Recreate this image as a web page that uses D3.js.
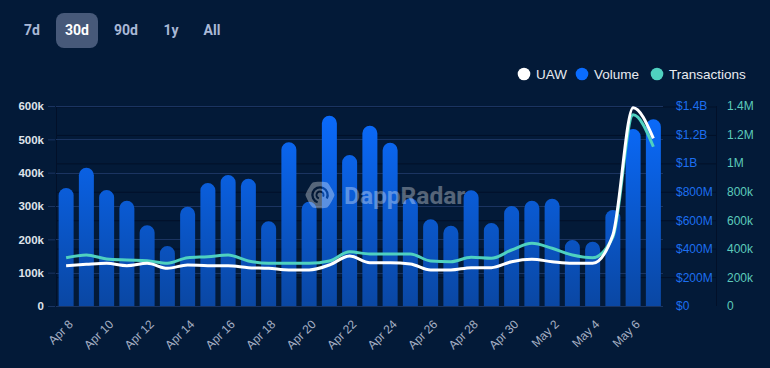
<!DOCTYPE html>
<html><head><meta charset="utf-8">
<script src="https://cdn.jsdelivr.net/npm/d3@7"></script>
<style>
html,body{margin:0;padding:0;background:#031a38;}
svg{display:block;}
</style></head><body>
<svg id="chart" width="770" height="368"></svg>
<script>
// ---------- DATA ----------
const days = ["Apr 8","Apr 9","Apr 10","Apr 11","Apr 12","Apr 13","Apr 14","Apr 15","Apr 16","Apr 17",
  "Apr 18","Apr 19","Apr 20","Apr 21","Apr 22","Apr 23","Apr 24","Apr 25","Apr 26","Apr 27",
  "Apr 28","Apr 29","Apr 30","May 1","May 2","May 3","May 4","May 5","May 6","May 7"];
// Volume in USD millions
const volume = [826,968,812,737,565,420,695,861,917,891,593,1146,730,1332,1057,1262,1143,754,607,562,810,581,700,737,751,462,450,672,1239,1307];
// Unique active wallets, thousands
const uaw = [121,125,128,121,128,113,123,121,121,115,113,108,108,123,150,130,130,126,108,108,115,115,133,140,133,128,128,213,595,503];
// Transactions, thousands
const transactions = [338,357,329,322,317,299,338,345,357,315,299,299,299,315,380,364,364,364,315,310,341,334,392,439,404,357,338,483,1338,1115];
const uawTicks = [0,100,200,300,400,500,600];
const volumeTicks = [0,200,400,600,800,1000,1200,1400];
const txTicks = [0,200,400,600,800,1000,1200,1400];
const xLabelDays = days.filter((d,i)=> i % 2 === 0);
const ranges = ["7d","30d","90d","1y","All"];
const selectedRange = "30d";
const legendItems = ["UAW","Volume","Transactions"];

// ---------- STYLE ----------
const C = {
  bg:"#031a38", grid:"#1b3461", darkGrid:"#021029",
  uaw:"#ffffff", vol:"#0a6cff", volAxis:"#1d6ff0", tx:"#4fd1c0", txAxis:"#5ccabb",
  leftText:"#dfe3ea", xText:"#a6b0c4", btnText:"#a9b8d6", btnBg:"#475979"
};
const FONT = "'Liberation Sans', Arial, sans-serif";

const svg = d3.select("#chart");
svg.append("rect").attr("width",770).attr("height",368).attr("fill",C.bg);

const plot = {left:56, right:663.5, top:106, bottom:306};

const x = d3.scaleBand().domain(days).range([plot.left, plot.right]).paddingInner(0.26).paddingOuter(0.13);
const cx = d => x(d) + x.bandwidth()/2;
const yU = d3.scaleLinear().domain([0,600]).range([plot.bottom, plot.top]);
const yV = d3.scaleLinear().domain([0,1400]).range([plot.bottom, plot.top]);
const yT = d3.scaleLinear().domain([0,1400]).range([plot.bottom, plot.top]);

// gradient
const defs = svg.append("defs");
const grad = defs.append("linearGradient").attr("id","barGrad").attr("gradientUnits","userSpaceOnUse")
  .attr("x1",0).attr("x2",0).attr("y1",plot.top).attr("y2",plot.bottom);
grad.append("stop").attr("offset","0%").attr("stop-color","#0a6cff");
grad.append("stop").attr("offset","100%").attr("stop-color","#0a47a3");

// hidden secondary grid (faint dark lines)
const yHidden = d3.scaleLinear().domain([0,7]).range([plot.bottom, plot.top+1]);
svg.append("g").selectAll("line").data(d3.range(1,8)).join("line")
  .attr("x1",plot.left).attr("x2",716).attr("y1",d=>yHidden(d)).attr("y2",d=>yHidden(d))
  .attr("stroke",C.darkGrid).attr("stroke-width",1);
svg.append("line").attr("x1",plot.left+0.5).attr("x2",plot.left+0.5).attr("y1",plot.top).attr("y2",plot.bottom).attr("stroke",C.darkGrid);
svg.append("line").attr("x1",716.5).attr("x2",716.5).attr("y1",plot.top).attr("y2",plot.bottom).attr("stroke",C.darkGrid);

// gridlines
svg.append("g").selectAll("line").data(uawTicks).join("line")
  .attr("x1",plot.left).attr("x2",663).attr("y1",d=>Math.round(yU(d))+0.5).attr("y2",d=>Math.round(yU(d))+0.5)
  .attr("stroke",C.grid).attr("stroke-width",1);

// left axis
const gL = svg.append("g").attr("transform",`translate(${plot.left-1},0)`)
  .call(d3.axisLeft(yU).tickValues(uawTicks).tickFormat(d=> d===0?"0":d+"k").tickSize(7).tickPadding(4));
gL.select(".domain").remove();
gL.selectAll(".tick line").attr("stroke",C.grid);
gL.selectAll("text").attr("fill",C.leftText).attr("font-family",FONT).attr("font-size",11.5).attr("font-weight","bold");

// right axes
const gV = svg.append("g").attr("transform","translate(672,0)")
  .call(d3.axisRight(yV).tickValues(volumeTicks).tickSize(0).tickPadding(4)
    .tickFormat(d=> d===0?"$0": d>=1000? "$"+(d/1000)+"B" : "$"+d+"M"));
gV.select(".domain").remove();
gV.selectAll("text").attr("fill",C.volAxis).attr("font-family",FONT).attr("font-size",12);

const gT = svg.append("g").attr("transform","translate(723,0)")
  .call(d3.axisRight(yT).tickValues(txTicks).tickSize(0).tickPadding(4)
    .tickFormat(d=> d===0?"0": d>=1000? (d/1000)+"M" : d+"k"));
gT.select(".domain").remove();
gT.selectAll("text").attr("fill",C.txAxis).attr("font-family",FONT).attr("font-size",12);

// bars
const bw = x.bandwidth(), r = bw/2;
svg.append("g").selectAll("path").data(days).join("path")
  .attr("fill","url(#barGrad)")
  .attr("d",(d,i)=>{
    const x0 = x(d), top = yV(volume[i]), b = yV(0);
    const p = d3.path();
    p.moveTo(x0,b); p.lineTo(x0,top+r);
    p.arc(x0+r, top+r, r, Math.PI, 2*Math.PI);
    p.lineTo(x0+bw,b); p.closePath();
    return p.toString();
  });

// watermark
const wm = svg.append("g").attr("opacity",0.33);
const lx = 320, ly = 195;
const hex = d3.range(6).map(k=>{const a=Math.PI/3*k; return [lx+14.5*Math.cos(a), ly+14.5*Math.sin(a)];});
wm.append("path").attr("d", d3.line().curve(d3.curveCardinalClosed.tension(0.55))(hex)).attr("fill","#ffffff");
wm.append("path").attr("d", d3.arc()({innerRadius:6.5,outerRadius:8.8,startAngle:-Math.PI*0.9,endAngle:Math.PI*0.65})).attr("transform",`translate(${lx},${ly})`).attr("fill",C.bg);
wm.append("path").attr("d", d3.arc()({innerRadius:2.5,outerRadius:4.5,startAngle:-Math.PI*0.9,endAngle:Math.PI*0.65})).attr("transform",`translate(${lx},${ly})`).attr("fill",C.bg);
wm.append("text").attr("x",344).attr("y",204).text("DappRadar").attr("fill","#ffffff")
  .attr("font-family","Roboto, 'Liberation Sans', sans-serif").attr("font-weight","bold").attr("font-size",24.5);

// lines
const lineGen = (ys, arr) => d3.line().x((d)=>cx(d)).y((d,i)=>ys(arr[i])).curve(d3.curveMonotoneX);
svg.append("path").datum(days).attr("d",lineGen(yT,transactions)).attr("fill","none")
  .attr("stroke",C.tx).attr("stroke-width",3).attr("stroke-linejoin","round");
svg.append("path").datum(days).attr("d",lineGen(yU,uaw)).attr("fill","none")
  .attr("stroke",C.uaw).attr("stroke-width",3).attr("stroke-linejoin","round");

// x labels
svg.append("g").selectAll("text").data(xLabelDays).join("text")
  .attr("transform",d=>`translate(${cx(d)+7.5},${325}) rotate(-45)`)
  .attr("text-anchor","end").attr("fill",C.xText).attr("font-family",FONT).attr("font-size",12)
  .text(d=>d);

// legend
const legendColors = [C.uaw, C.vol, C.tx];
const legendX = [524, 582, 657];
const lg = svg.append("g");
legendItems.forEach((name,i)=>{
  lg.append("circle").attr("cx",legendX[i]).attr("cy",74).attr("r",6.3).attr("fill",legendColors[i]);
  lg.append("text").attr("x",legendX[i]+12).attr("y",74).attr("dy","0.35em").text(name)
    .attr("fill","#e8eaf0").attr("font-family",FONT).attr("font-size",13.5);
});

// range buttons
const btnX = [32,77,126,171,212];
const bg = svg.append("g");
ranges.forEach((rg,i)=>{
  if (rg===selectedRange) bg.append("rect").attr("x",btnX[i]-21).attr("y",13).attr("width",42).attr("height",35).attr("rx",8).attr("fill",C.btnBg);
  bg.append("text").attr("x",btnX[i]).attr("y",30.5).attr("dy","0.35em").attr("text-anchor","middle").text(rg)
    .attr("fill", rg===selectedRange ? "#ffffff" : C.btnText)
    .attr("font-family","Roboto, sans-serif").attr("font-weight","bold").attr("font-size",14);
});
</script>
</body></html>
